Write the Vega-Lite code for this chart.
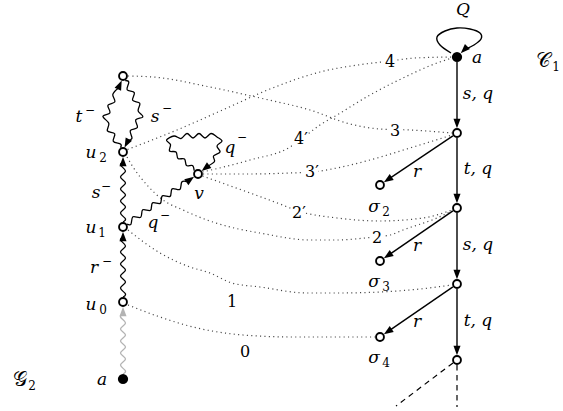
{
  "$schema": "https://vega.github.io/schema/vega-lite/v6.json",
  "width": 563,
  "height": 411,
  "padding": 0,
  "autosize": {"type": "fit", "contains": "padding"},
  "background": "white",
  "config": {"view": {"stroke": null}},
  "datasets": {
    "dots": [
      {"id": "d3", "x": 128, "y": 76}, {"id": "d3", "x": 153, "y": 77}, {"id": "d3", "x": 210, "y": 87}, {"id": "d3", "x": 260, "y": 98}, {"id": "d3", "x": 310, "y": 110}, {"id": "d3", "x": 350, "y": 124}, {"id": "d3", "x": 380, "y": 129}, {"id": "d3", "x": 410, "y": 130}, {"id": "d3", "x": 452, "y": 133},
      {"id": "d4", "x": 127.5, "y": 149.5}, {"id": "d4", "x": 177, "y": 130}, {"id": "d4", "x": 227, "y": 108}, {"id": "d4", "x": 270, "y": 89}, {"id": "d4", "x": 320, "y": 72}, {"id": "d4", "x": 365, "y": 64}, {"id": "d4", "x": 390, "y": 61}, {"id": "d4", "x": 415, "y": 58}, {"id": "d4", "x": 452, "y": 57},
      {"id": "d4p", "x": 202.5, "y": 172}, {"id": "d4p", "x": 250, "y": 160}, {"id": "d4p", "x": 290, "y": 147}, {"id": "d4p", "x": 300, "y": 140}, {"id": "d4p", "x": 320, "y": 125}, {"id": "d4p", "x": 337, "y": 115}, {"id": "d4p", "x": 370, "y": 95}, {"id": "d4p", "x": 403, "y": 78}, {"id": "d4p", "x": 437, "y": 63}, {"id": "d4p", "x": 452, "y": 58},
      {"id": "d3p", "x": 203, "y": 174}, {"id": "d3p", "x": 250, "y": 174}, {"id": "d3p", "x": 290, "y": 173}, {"id": "d3p", "x": 312, "y": 172}, {"id": "d3p", "x": 337, "y": 168}, {"id": "d3p", "x": 370, "y": 160}, {"id": "d3p", "x": 410, "y": 148}, {"id": "d3p", "x": 452, "y": 135},
      {"id": "d2p", "x": 202.5, "y": 176}, {"id": "d2p", "x": 250, "y": 193}, {"id": "d2p", "x": 280, "y": 204}, {"id": "d2p", "x": 298, "y": 211}, {"id": "d2p", "x": 337, "y": 218}, {"id": "d2p", "x": 380, "y": 221}, {"id": "d2p", "x": 423, "y": 218}, {"id": "d2p", "x": 452, "y": 210},
      {"id": "d2", "x": 127, "y": 157}, {"id": "d2", "x": 133, "y": 167}, {"id": "d2", "x": 147, "y": 185}, {"id": "d2", "x": 163, "y": 200}, {"id": "d2", "x": 183, "y": 210}, {"id": "d2", "x": 207, "y": 220}, {"id": "d2", "x": 230, "y": 227}, {"id": "d2", "x": 260, "y": 233}, {"id": "d2", "x": 310, "y": 240}, {"id": "d2", "x": 337, "y": 240}, {"id": "d2", "x": 365, "y": 238}, {"id": "d2", "x": 390, "y": 235}, {"id": "d2", "x": 403, "y": 230}, {"id": "d2", "x": 437, "y": 218}, {"id": "d2", "x": 452, "y": 211},
      {"id": "d1", "x": 128, "y": 230}, {"id": "d1", "x": 160, "y": 253}, {"id": "d1", "x": 190, "y": 267}, {"id": "d1", "x": 210, "y": 273}, {"id": "d1", "x": 232, "y": 283}, {"id": "d1", "x": 260, "y": 287}, {"id": "d1", "x": 307, "y": 293}, {"id": "d1", "x": 337, "y": 293}, {"id": "d1", "x": 380, "y": 292}, {"id": "d1", "x": 420, "y": 289}, {"id": "d1", "x": 452, "y": 285},
      {"id": "d0", "x": 128, "y": 305}, {"id": "d0", "x": 160, "y": 317}, {"id": "d0", "x": 193, "y": 327}, {"id": "d0", "x": 243, "y": 335}, {"id": "d0", "x": 293, "y": 337}, {"id": "d0", "x": 340, "y": 337}, {"id": "d0", "x": 375, "y": 337}
    ],
    "waves": [
      {"id": "w0", "tone": "faint", "x": 123, "y": 374}, {"id": "w0", "tone": "faint", "x": 125.5, "y": 371}, {"id": "w0", "tone": "faint", "x": 120.5, "y": 365}, {"id": "w0", "tone": "faint", "x": 125.5, "y": 359}, {"id": "w0", "tone": "faint", "x": 120.5, "y": 353}, {"id": "w0", "tone": "faint", "x": 125.5, "y": 347}, {"id": "w0", "tone": "faint", "x": 120.5, "y": 341}, {"id": "w0", "tone": "faint", "x": 125.5, "y": 335}, {"id": "w0", "tone": "faint", "x": 120.5, "y": 329}, {"id": "w0", "tone": "faint", "x": 125.5, "y": 323}, {"id": "w0", "tone": "faint", "x": 120.5, "y": 317}, {"id": "w0", "tone": "faint", "x": 123, "y": 313},
      {"id": "w1", "tone": "main", "x": 123, "y": 297}, {"id": "w1", "tone": "main", "x": 125.5, "y": 294}, {"id": "w1", "tone": "main", "x": 120.5, "y": 288}, {"id": "w1", "tone": "main", "x": 125.5, "y": 282}, {"id": "w1", "tone": "main", "x": 120.5, "y": 276}, {"id": "w1", "tone": "main", "x": 125.5, "y": 270}, {"id": "w1", "tone": "main", "x": 120.5, "y": 264}, {"id": "w1", "tone": "main", "x": 125.5, "y": 258}, {"id": "w1", "tone": "main", "x": 120.5, "y": 252}, {"id": "w1", "tone": "main", "x": 125.5, "y": 246}, {"id": "w1", "tone": "main", "x": 120.5, "y": 240}, {"id": "w1", "tone": "main", "x": 123, "y": 237},
      {"id": "w2", "tone": "main", "x": 123, "y": 222}, {"id": "w2", "tone": "main", "x": 125.5, "y": 219}, {"id": "w2", "tone": "main", "x": 120.5, "y": 213}, {"id": "w2", "tone": "main", "x": 125.5, "y": 207}, {"id": "w2", "tone": "main", "x": 120.5, "y": 201}, {"id": "w2", "tone": "main", "x": 125.5, "y": 195}, {"id": "w2", "tone": "main", "x": 120.5, "y": 189}, {"id": "w2", "tone": "main", "x": 125.5, "y": 183}, {"id": "w2", "tone": "main", "x": 120.5, "y": 177}, {"id": "w2", "tone": "main", "x": 125.5, "y": 171}, {"id": "w2", "tone": "main", "x": 120.5, "y": 165}, {"id": "w2", "tone": "main", "x": 123, "y": 162},
      {"id": "w3", "tone": "main", "x": 120.5, "y": 147.6}, {"id": "w3", "tone": "main", "x": 120.7, "y": 144.2}, {"id": "w3", "tone": "main", "x": 113.3, "y": 141.4}, {"id": "w3", "tone": "main", "x": 114.7, "y": 133.8}, {"id": "w3", "tone": "main", "x": 107.4, "y": 130.9}, {"id": "w3", "tone": "main", "x": 108.8, "y": 123.3}, {"id": "w3", "tone": "main", "x": 102.9, "y": 116.3}, {"id": "w3", "tone": "main", "x": 110, "y": 112.8}, {"id": "w3", "tone": "main", "x": 107.9, "y": 105.3}, {"id": "w3", "tone": "main", "x": 114.9, "y": 101.8}, {"id": "w3", "tone": "main", "x": 112.8, "y": 94.4}, {"id": "w3", "tone": "main", "x": 118.5, "y": 88},
      {"id": "w4", "tone": "main", "x": 125.2, "y": 80.5}, {"id": "w4", "tone": "main", "x": 128.8, "y": 82.1}, {"id": "w4", "tone": "main", "x": 127.1, "y": 89.7}, {"id": "w4", "tone": "main", "x": 134.3, "y": 92.6}, {"id": "w4", "tone": "main", "x": 132.6, "y": 100.3}, {"id": "w4", "tone": "main", "x": 139.8, "y": 103.3}, {"id": "w4", "tone": "main", "x": 138.1, "y": 110.9}, {"id": "w4", "tone": "main", "x": 142.9, "y": 116.8}, {"id": "w4", "tone": "main", "x": 135.7, "y": 119.9}, {"id": "w4", "tone": "main", "x": 137.4, "y": 127.5}, {"id": "w4", "tone": "main", "x": 130.3, "y": 130.6}, {"id": "w4", "tone": "main", "x": 132, "y": 138.2}, {"id": "w4", "tone": "main", "x": 128, "y": 140.7},
      {"id": "w5", "tone": "main", "x": 127.1, "y": 224.1}, {"id": "w5", "tone": "main", "x": 130.9, "y": 224.3}, {"id": "w5", "tone": "main", "x": 132.9, "y": 216.8}, {"id": "w5", "tone": "main", "x": 140.7, "y": 217.3}, {"id": "w5", "tone": "main", "x": 142.7, "y": 209.8}, {"id": "w5", "tone": "main", "x": 150.5, "y": 210.3}, {"id": "w5", "tone": "main", "x": 152.5, "y": 202.9}, {"id": "w5", "tone": "main", "x": 160.3, "y": 203.4}, {"id": "w5", "tone": "main", "x": 162.3, "y": 195.9}, {"id": "w5", "tone": "main", "x": 170.1, "y": 196.4}, {"id": "w5", "tone": "main", "x": 172.1, "y": 188.9}, {"id": "w5", "tone": "main", "x": 179.8, "y": 189.5}, {"id": "w5", "tone": "main", "x": 181.8, "y": 182}, {"id": "w5", "tone": "main", "x": 186.5, "y": 181.5},
      {"id": "w6", "tone": "main", "x": 194.2, "y": 170.8}, {"id": "w6", "tone": "main", "x": 192.5, "y": 165.5}, {"id": "w6", "tone": "main", "x": 186.5, "y": 165.5}, {"id": "w6", "tone": "main", "x": 184.5, "y": 159}, {"id": "w6", "tone": "main", "x": 178, "y": 158.5}, {"id": "w6", "tone": "main", "x": 176, "y": 152}, {"id": "w6", "tone": "main", "x": 169.5, "y": 151}, {"id": "w6", "tone": "main", "x": 170.5, "y": 144.5}, {"id": "w6", "tone": "main", "x": 166.5, "y": 140}, {"id": "w6", "tone": "main", "x": 174, "y": 136}, {"id": "w6", "tone": "main", "x": 181, "y": 138.5}, {"id": "w6", "tone": "main", "x": 187, "y": 133.5}, {"id": "w6", "tone": "main", "x": 193, "y": 138}, {"id": "w6", "tone": "main", "x": 199, "y": 133.5}, {"id": "w6", "tone": "main", "x": 205, "y": 138}, {"id": "w6", "tone": "main", "x": 211, "y": 133.5}, {"id": "w6", "tone": "main", "x": 217, "y": 137}, {"id": "w6", "tone": "main", "x": 222, "y": 141}, {"id": "w6", "tone": "main", "x": 217, "y": 146}, {"id": "w6", "tone": "main", "x": 220, "y": 152}, {"id": "w6", "tone": "main", "x": 213.5, "y": 156}, {"id": "w6", "tone": "main", "x": 214.5, "y": 161.5}, {"id": "w6", "tone": "main", "x": 208, "y": 166}
    ],
    "qloop": [
      {"x": 451, "y": 53}, {"x": 440, "y": 45}, {"x": 437, "y": 37}, {"x": 445, "y": 31}, {"x": 457, "y": 28}, {"x": 470, "y": 29}, {"x": 480, "y": 33}, {"x": 481, "y": 39}, {"x": 474, "y": 45}, {"x": 466, "y": 49}
    ],
    "edges": [
      {"x": 457, "y": 62, "x2": 457, "y2": 124},
      {"x": 457, "y": 138, "x2": 457, "y2": 199},
      {"x": 457, "y": 213, "x2": 457, "y2": 275},
      {"x": 457, "y": 289, "x2": 457, "y2": 351},
      {"x": 452.9, "y": 135.8, "x2": 387.8, "y2": 179.7},
      {"x": 452.9, "y": 210.8, "x2": 387.8, "y2": 255.7},
      {"x": 452.9, "y": 286.8, "x2": 387.8, "y2": 331.7}
    ],
    "dashes": [
      {"x": 457, "y": 365, "x2": 457, "y2": 407},
      {"x": 453, "y": 363, "x2": 396, "y2": 406}
    ],
    "heads": [
      {"x": 464.1, "y": 49.9, "angle": 225, "tone": "main"},
      {"x": 457, "y": 123.5, "angle": 180, "tone": "main"},
      {"x": 457, "y": 198.5, "angle": 180, "tone": "main"},
      {"x": 457, "y": 274.5, "angle": 180, "tone": "main"},
      {"x": 457, "y": 350.5, "angle": 180, "tone": "main"},
      {"x": 387.8, "y": 179.7, "angle": 236, "tone": "main"},
      {"x": 387.8, "y": 255.7, "angle": 236, "tone": "main"},
      {"x": 387.8, "y": 331.7, "angle": 236, "tone": "main"},
      {"x": 123, "y": 311.5, "angle": 0, "tone": "faint"},
      {"x": 123, "y": 236.5, "angle": 0, "tone": "main"},
      {"x": 123, "y": 161.5, "angle": 0, "tone": "main"},
      {"x": 119.8, "y": 84.9, "angle": 24.2, "tone": "main"},
      {"x": 126.7, "y": 143.3, "angle": 206.8, "tone": "main"},
      {"x": 190.2, "y": 179.5, "angle": 54.6, "tone": "main"},
      {"x": 205.4, "y": 168.1, "angle": 231.8, "tone": "main"}
    ],
    "masks": [
      {"x": 390, "y": 61}, {"x": 395, "y": 131}, {"x": 301, "y": 138}, {"x": 311, "y": 171}, {"x": 298, "y": 212}, {"x": 377, "y": 237}
    ],
    "open": [
      {"x": 457, "y": 133}, {"x": 457, "y": 208}, {"x": 457, "y": 284}, {"x": 457, "y": 360},
      {"x": 380, "y": 185}, {"x": 380, "y": 261}, {"x": 380, "y": 337},
      {"x": 123, "y": 302}, {"x": 123, "y": 227}, {"x": 123, "y": 152}, {"x": 123, "y": 76}, {"x": 198, "y": 174}
    ],
    "solid": [
      {"x": 457, "y": 57}, {"x": 123, "y": 379}
    ],
    "math": [
      {"text": "Q", "x": 463, "y": 15},
      {"text": "a", "x": 477, "y": 63},
      {"text": "s, q", "x": 478, "y": 99},
      {"text": "t, q", "x": 478, "y": 174},
      {"text": "s, q", "x": 478, "y": 250},
      {"text": "t, q", "x": 478, "y": 326},
      {"text": "r", "x": 417, "y": 177},
      {"text": "r", "x": 417, "y": 251},
      {"text": "r", "x": 417, "y": 327},
      {"text": "σ", "x": 374, "y": 212},
      {"text": "σ", "x": 374, "y": 287},
      {"text": "σ", "x": 374, "y": 363},
      {"text": "u", "x": 91, "y": 158},
      {"text": "u", "x": 91, "y": 233},
      {"text": "u", "x": 91, "y": 310},
      {"text": "a", "x": 102, "y": 385},
      {"text": "t", "x": 79, "y": 122},
      {"text": "s", "x": 155, "y": 122},
      {"text": "q", "x": 230, "y": 153},
      {"text": "v", "x": 199, "y": 199},
      {"text": "s", "x": 96, "y": 198},
      {"text": "r", "x": 94, "y": 273},
      {"text": "q", "x": 153, "y": 228}
    ],
    "sub": [
      {"text": "1", "x": 556, "y": 71},
      {"text": "2", "x": 386, "y": 216},
      {"text": "3", "x": 386, "y": 291},
      {"text": "4", "x": 386, "y": 367},
      {"text": "2", "x": 103, "y": 162},
      {"text": "1", "x": 102, "y": 237},
      {"text": "0", "x": 103, "y": 314},
      {"text": "2", "x": 32, "y": 390}
    ],
    "sup": [
      {"text": "−", "x": 90, "y": 114},
      {"text": "−", "x": 167, "y": 112},
      {"text": "−", "x": 242, "y": 141},
      {"text": "−", "x": 106, "y": 190},
      {"text": "−", "x": 107, "y": 265},
      {"text": "−", "x": 165, "y": 219}
    ],
    "num": [
      {"text": "4", "x": 390, "y": 67},
      {"text": "3", "x": 395, "y": 136},
      {"text": "4′", "x": 301, "y": 144},
      {"text": "3′", "x": 312, "y": 177},
      {"text": "2′", "x": 299, "y": 218},
      {"text": "2", "x": 377, "y": 243},
      {"text": "1", "x": 232, "y": 307},
      {"text": "0", "x": 245, "y": 357}
    ],
    "script": [
      {"text": "𝒞", "x": 543, "y": 67},
      {"text": "𝒢", "x": 20, "y": 386}
    ]
  },
  "encoding": {
    "x": {"field": "x", "type": "quantitative", "scale": {"domain": [0, 563], "nice": false, "zero": false}, "axis": null},
    "y": {"field": "y", "type": "quantitative", "scale": {"domain": [0, 411], "nice": false, "zero": false, "reverse": true}, "axis": null}
  },
  "layer": [
    {
      "data": {"name": "dots"},
      "mark": {"type": "line", "interpolate": "monotone", "stroke": "#444444", "strokeWidth": 1.2, "strokeDash": [1.1, 3.3]},
      "encoding": {"detail": {"field": "id"}, "order": {"value": null}}
    },
    {
      "data": {"name": "masks"},
      "mark": {"type": "point", "shape": "square", "filled": true, "fill": "white", "opacity": 1, "size": 200, "strokeWidth": 0}
    },
    {
      "data": {"name": "num"},
      "mark": {"type": "text", "font": "DejaVu Serif", "fontSize": 16, "align": "center", "baseline": "alphabetic", "color": "black"},
      "encoding": {"text": {"field": "text"}}
    },
    {
      "data": {"name": "waves"},
      "mark": {"type": "line", "interpolate": "cardinal", "strokeWidth": 1.3},
      "encoding": {
        "detail": {"field": "id"},
        "order": {"value": null},
        "color": {"field": "tone", "type": "nominal", "scale": {"domain": ["main", "faint"], "range": ["#000000", "#b3b3b3"]}, "legend": null}
      }
    },
    {
      "data": {"name": "qloop"},
      "mark": {"type": "line", "interpolate": "cardinal", "strokeWidth": 1.4, "color": "black"},
      "encoding": {"order": {"value": null}}
    },
    {
      "data": {"name": "edges"},
      "mark": {"type": "rule", "color": "black", "strokeWidth": 1.4},
      "encoding": {"x2": {"field": "x2"}, "y2": {"field": "y2"}}
    },
    {
      "data": {"name": "dashes"},
      "mark": {"type": "rule", "color": "black", "strokeWidth": 1.2, "strokeDash": [5.5, 4.5]},
      "encoding": {"x2": {"field": "x2"}, "y2": {"field": "y2"}}
    },
    {
      "data": {"name": "heads"},
      "mark": {"type": "point", "shape": "M0,-1L0.75,1L-0.75,1Z", "filled": true, "opacity": 1, "size": 90},
      "encoding": {
        "angle": {"field": "angle", "type": "quantitative", "scale": null},
        "color": {"field": "tone", "type": "nominal", "scale": {"domain": ["main", "faint"], "range": ["#000000", "#b3b3b3"]}, "legend": null}
      }
    },
    {
      "data": {"name": "open"},
      "mark": {"type": "point", "shape": "circle", "filled": false, "fill": "white", "fillOpacity": 1, "stroke": "black", "strokeWidth": 1.9, "opacity": 1, "size": 62}
    },
    {
      "data": {"name": "solid"},
      "mark": {"type": "point", "shape": "circle", "filled": true, "color": "black", "opacity": 1, "size": 105}
    },
    {
      "data": {"name": "math"},
      "mark": {"type": "text", "font": "DejaVu Serif", "fontStyle": "italic", "fontSize": 17, "align": "center", "baseline": "alphabetic", "color": "black"},
      "encoding": {"text": {"field": "text"}}
    },
    {
      "data": {"name": "sub"},
      "mark": {"type": "text", "font": "DejaVu Serif", "fontSize": 12, "align": "center", "baseline": "alphabetic", "color": "black"},
      "encoding": {"text": {"field": "text"}}
    },
    {
      "data": {"name": "sup"},
      "mark": {"type": "text", "font": "DejaVu Serif", "fontSize": 12, "align": "center", "baseline": "alphabetic", "color": "black"},
      "encoding": {"text": {"field": "text"}}
    },
    {
      "data": {"name": "script"},
      "mark": {"type": "text", "font": "DejaVu Serif", "fontSize": 20, "align": "center", "baseline": "alphabetic", "color": "black"},
      "encoding": {"text": {"field": "text"}}
    }
  ]
}
